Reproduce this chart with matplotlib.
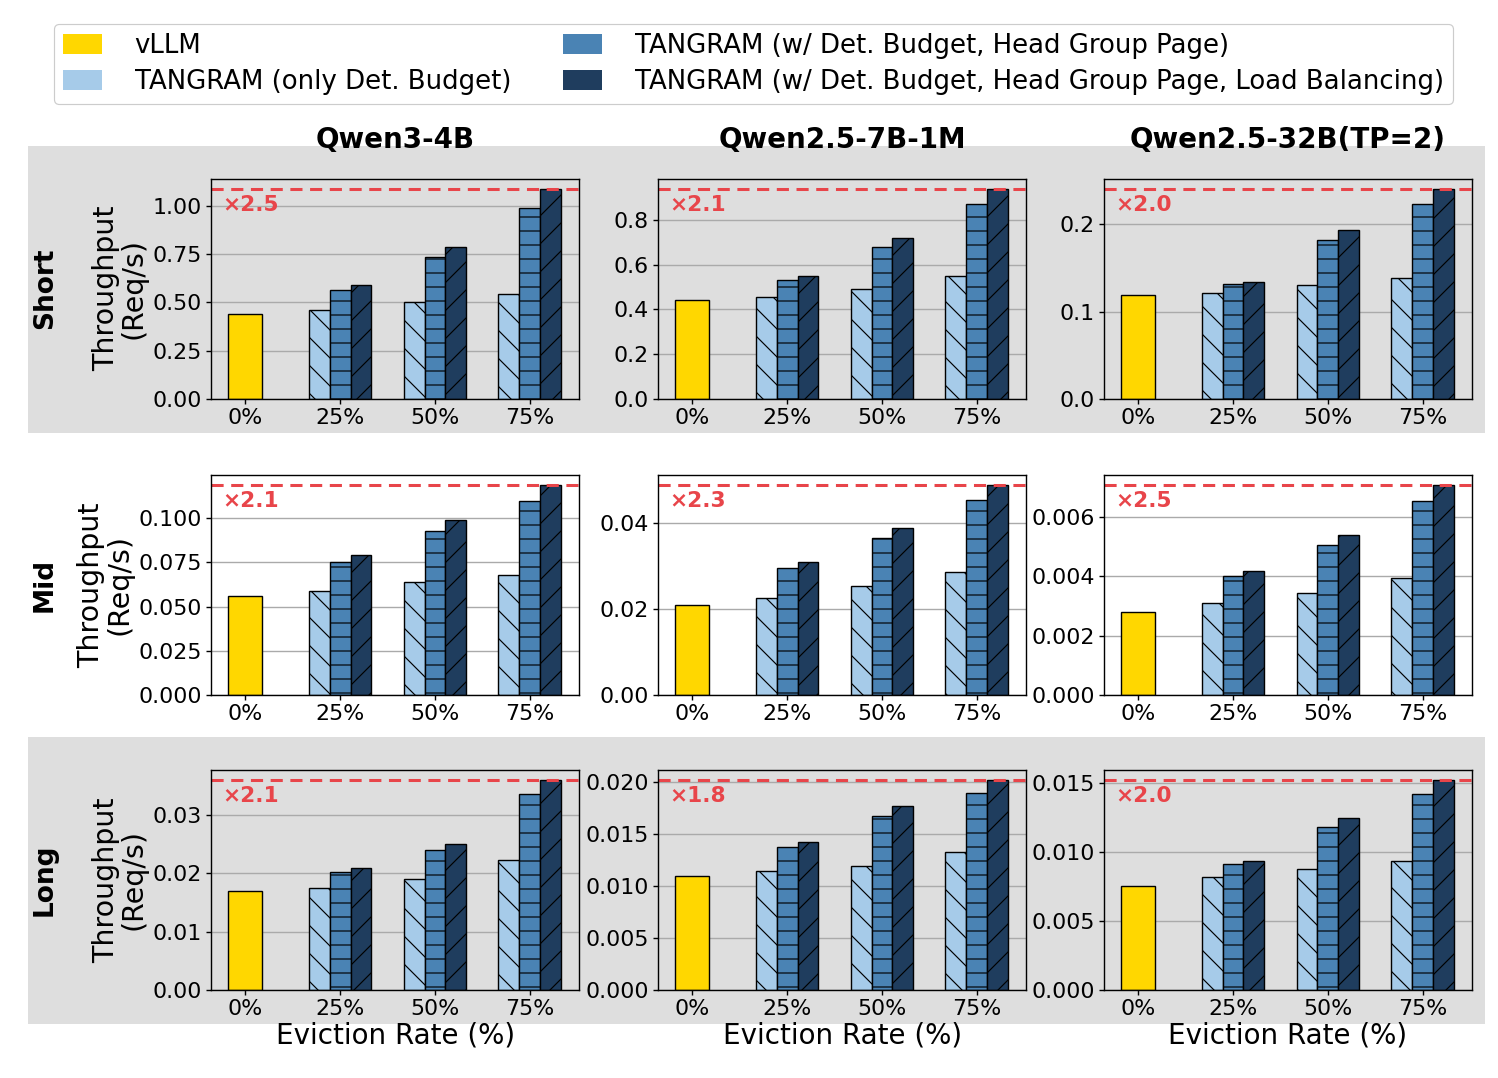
import numpy as np
import matplotlib
matplotlib.use("Agg")
import matplotlib.pyplot as plt
from matplotlib.patches import Patch, Rectangle
from matplotlib.ticker import MultipleLocator

# eviction rates on the x axis
rates = ["0%", "25%", "50%", "75%"]
models = ["Qwen3-4B", "Qwen2.5-7B-1M", "Qwen2.5-32B(TP=2)"]
rows = ["Short", "Mid", "Long"]

labels = [
    "vLLM",
    "TANGRAM (only Det. Budget)",
    "TANGRAM (w/ Det. Budget, Head Group Page)",
    "TANGRAM (w/ Det. Budget, Head Group Page, Load Balancing)",
]

# vLLM baseline (0% eviction), per row / model
vllm = [
    [0.440, 0.442, 0.119],
    [0.0558, 0.0209, 0.00279],
    [0.01704, 0.0110, 0.00756],
]

# TANGRAM only Det. Budget at 25/50/75%
only_budget = [
    [[0.461, 0.503, 0.544], [0.457, 0.493, 0.549], [0.1215, 0.1307, 0.1387]],
    [[0.0587, 0.0638, 0.0677], [0.0226, 0.0253, 0.0286], [0.00310, 0.00343, 0.00394]],
    [[0.01756, 0.01911, 0.02240], [0.01148, 0.01197, 0.01323], [0.00822, 0.00880, 0.00938]],
]

# TANGRAM w/ Det. Budget + Head Group Page
head_group = [
    [[0.565, 0.737, 0.992], [0.531, 0.679, 0.872], [0.1318, 0.1824, 0.2230]],
    [[0.0751, 0.0926, 0.1096], [0.0295, 0.0365, 0.0454], [0.00400, 0.00505, 0.00654]],
    [[0.02032, 0.02395, 0.03362], [0.01371, 0.01671, 0.01894], [0.00916, 0.01179, 0.01420]],
]

# TANGRAM full (with load balancing)
load_bal = [
    [[0.591, 0.789, 1.090], [0.549, 0.720, 0.939], [0.1341, 0.1939, 0.2410]],
    [[0.0791, 0.0989, 0.1189], [0.0309, 0.0388, 0.0489], [0.00418, 0.00539, 0.00709]],
    [[0.02101, 0.02499, 0.03610], [0.01419, 0.01768, 0.02023], [0.00938, 0.01245, 0.01524]],
]

ytick_step = [
    [0.25, 0.2, 0.1],
    [0.025, 0.02, 0.002],
    [0.01, 0.005, 0.005],
]

colors = ["#FFD700", "#a6cbe9", "#4a83b4", "#1f3d5e"]
hatches = [None, "\\", "-", "/"]
red = "#e8454a"
band = "#dedede"

# lower dpi so the hatch spacing matches the original
DPI = 84
fig = plt.figure(figsize=(1498 / DPI, 1078 / DPI), dpi=DPI)

# gray bands behind the first and last rows
for y0 in [0.5983, 0.0501]:
    fig.patches.append(Rectangle((0.0187, y0), 0.9726, 0.2662, transform=fig.transFigure,
                                 facecolor=band, edgecolor="none", zorder=-5))

lefts = [0.1409, 0.4393, 0.7370]
bottoms = [0.6299, 0.3553, 0.0816]
w, h = 0.2457, 0.2045

x = np.arange(len(rates))
bw = 0.22

for r in range(3):
    for c in range(3):
        ax = fig.add_axes([lefts[c], bottoms[r], w, h])
        ax.set_facecolor("none")
        ax.set_axisbelow(True)
        ax.grid(axis="y", color="#aaaaaa", linewidth=1.2)

        ax.bar(x[0], vllm[r][c], width=0.36, color=colors[0], edgecolor="black", linewidth=1.2)
        series = [only_budget[r][c], head_group[r][c], load_bal[r][c]]
        for k, vals in enumerate(series):
            ax.bar(x[1:] + (k - 1) * bw, vals, width=bw, color=colors[k + 1],
                   edgecolor="black", linewidth=1.2, hatch=hatches[k + 1])

        best = max(load_bal[r][c])
        ax.axhline(best, color=red, linestyle="--", linewidth=2.6, dashes=(4, 2.5))
        ax.text(0.03, 0.88, "×%.1f" % (best / vllm[r][c]), transform=ax.transAxes,
                color=red, fontsize=18.5, fontweight="bold", va="center", ha="left")

        ax.set_ylim(0, best * 1.048)
        ax.set_xlim(-0.36, 3.52)
        ax.yaxis.set_major_locator(MultipleLocator(ytick_step[r][c]))
        ax.set_xticks(x)
        ax.set_xticklabels(rates)
        ax.tick_params(labelsize=19, width=1.2, length=4.5)
        for sp in ax.spines.values():
            sp.set_linewidth(1.2)

        if c == 0:
            ax.set_ylabel("Throughput\n(Req/s)", fontsize=24.4, linespacing=1.0, labelpad=4)
        if r == 0:
            ax.set_title(models[c], fontsize=23.8, fontweight="bold", pad=26)
        if r == 2:
            ax.set_xlabel("Eviction Rate (%)", fontsize=23.8, labelpad=2)

for r in range(3):
    fig.text(0.030, bottoms[r] + h / 2, rows[r], rotation=90, fontsize=22.6,
             fontweight="bold", ha="center", va="center")

handles = [Patch(facecolor=col) for col in colors]
fig.legend(handles, labels,
           loc="upper center", bbox_to_anchor=(0.503, 0.990), ncol=2, fontsize=22.3,
           handlelength=1.5, handleheight=0.8, columnspacing=2.0, labelspacing=0.40,
           borderpad=0.35, handletextpad=1.25, framealpha=1.0, edgecolor="#cccccc")

fig.savefig("out.png", dpi=DPI)
